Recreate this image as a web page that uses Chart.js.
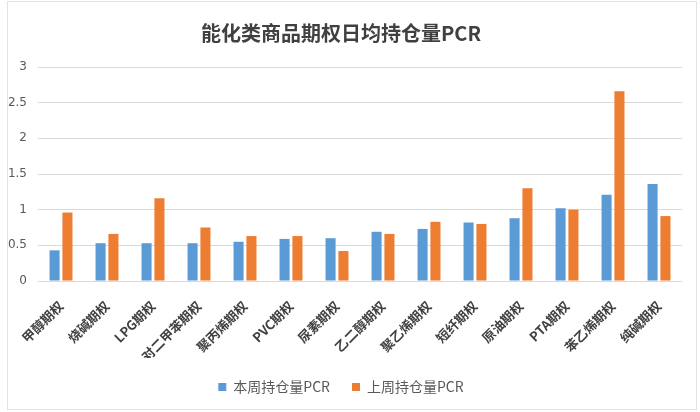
<!DOCTYPE html>
<html>
<head>
<meta charset="utf-8">
<script src="https://cdn.jsdelivr.net/npm/chart.js@4"></script>
<style>
    html, body { margin: 0; padding: 0; background: #fff; }
    #wrap { position: relative; width: 700px; height: 412px; }
    #frame { position: absolute; left: 7px; top: 1px; width: 688px; height: 407px; border: 1px solid #e3e3e3; pointer-events: none; }
</style>
</head>
<body>
<div id="wrap">
    <canvas id="pcrChart" width="700" height="412"></canvas>
    <div id="frame"></div>
</div>
<script>
// 能化类商品期权日均持仓量PCR
const categories = ['甲醇期权', '烧碱期权', 'LPG期权', '对二甲苯期权', '聚丙烯期权', 'PVC期权', '尿素期权',
    '乙二醇期权', '聚乙烯期权', '短纤期权', '原油期权', 'PTA期权', '苯乙烯期权', '纯碱期权'];
const thisWeek = [0.43, 0.53, 0.53, 0.53, 0.55, 0.59, 0.60, 0.69, 0.73, 0.82, 0.88, 1.02, 1.21, 1.36];
const lastWeek = [0.96, 0.66, 1.16, 0.75, 0.63, 0.63, 0.42, 0.66, 0.83, 0.80, 1.30, 1.00, 2.66, 0.91];
const yMin = 0, yMax = 3, yStep = 0.5;

const ctx = document.getElementById('pcrChart');
new Chart(ctx, {
    type: 'bar',
    data: {
        labels: categories,
        datasets: [{
            label: '本周持仓量PCR',
            data: thisWeek,
            backgroundColor: '#5b9bd5',
            categoryPercentage: 0.56,
            barPercentage: 0.78
        }, {
            label: '上周持仓量PCR',
            data: lastWeek,
            backgroundColor: '#ed7d31',
            categoryPercentage: 0.56,
            barPercentage: 0.78
        }]
    },
    options: {
        responsive: false,
        animation: false,
        layout: {
            padding: { left: 0, right: 18, top: 0, bottom: 8 }
        },
        plugins: {
            title: {
                display: true,
                text: '能化类商品期权日均持仓量PCR',
                color: '#404040',
                font: { family: '"Noto Sans CJK SC"', size: 20, weight: 'bold' },
                padding: { top: 21, bottom: 22 }
            },
            legend: {
                position: 'bottom',
                labels: {
                    boxWidth: 8,
                    boxHeight: 8,
                    padding: 22,
                    color: '#595959',
                    font: { family: '"Noto Sans CJK SC"', size: 14 }
                }
            },
            tooltip: { enabled: false }
        },
        scales: {
            x: {
                grid: { display: false },
                border: { display: false },
                ticks: {
                    color: '#404040',
                    minRotation: 45,
                    maxRotation: 45,
                    padding: 9,
                    font: { family: '"Noto Sans CJK SC"', size: 13, weight: 'bold' }
                },
                afterFit: function(scale) { scale.height = 77; }
            },
            y: {
                min: yMin,
                max: yMax,
                grid: { color: '#d9d9d9', drawTicks: false },
                border: { display: false },
                ticks: {
                    stepSize: yStep,
                    padding: 11,
                    color: '#595959',
                    font: { family: '"DejaVu Sans"', size: 12 },
                    callback: function(value) { return String(value); }
                },
                afterFit: function(scale) { scale.width = 38; }
            }
        }
    }
});
</script>
</body>
</html>
